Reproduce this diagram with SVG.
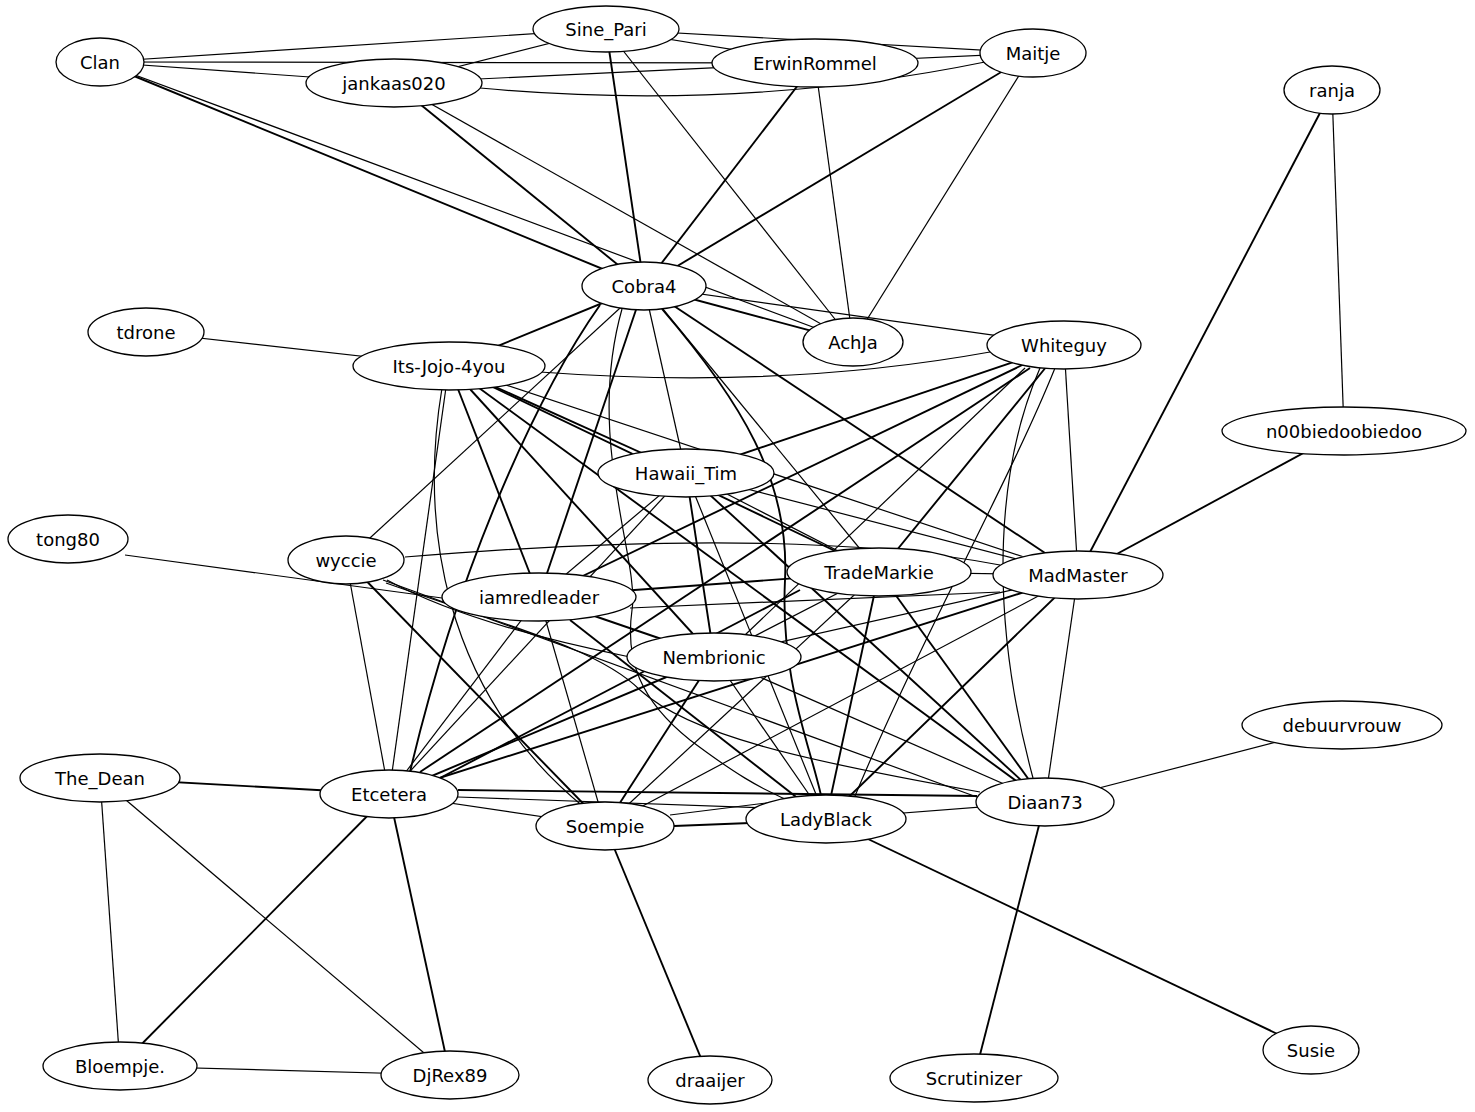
<svg xmlns="http://www.w3.org/2000/svg" width="1475" height="1112" viewBox="0 0 1475 1112">
<style>
.e line,.e path{stroke:#000;stroke-width:1.2;fill:none}
.e .t{stroke-width:1.9}
.n ellipse{fill:#fff;stroke:#000;stroke-width:1.3}
.n text{font-family:"DejaVu Sans","Liberation Sans",sans-serif;font-size:18px;text-anchor:middle;fill:#000}
</style>
<rect width="1475" height="1112" fill="#fff"/>
<g id="edges" class="e">
<line x1="100" y1="62" x2="606" y2="29"/>
<line x1="100" y1="62" x2="815" y2="63"/>
<line x1="100" y1="62" x2="394" y2="83"/>
<line class="t" x1="100" y1="62" x2="644" y2="286"/>
<line x1="100" y1="62" x2="853" y2="342"/>
<line x1="394" y1="83" x2="606" y2="29"/>
<line x1="394" y1="83" x2="815" y2="63"/>
<path d="M480,88 Q740,112 985,62"/>
<line class="t" x1="394" y1="83" x2="644" y2="286"/>
<line x1="394" y1="83" x2="853" y2="342"/>
<line x1="606" y1="29" x2="815" y2="63"/>
<line x1="606" y1="29" x2="1033" y2="53"/>
<line class="t" x1="606" y1="29" x2="644" y2="286"/>
<line x1="606" y1="29" x2="853" y2="342"/>
<line x1="815" y1="63" x2="1033" y2="53"/>
<line class="t" x1="815" y1="63" x2="644" y2="286"/>
<line x1="815" y1="63" x2="853" y2="342"/>
<line class="t" x1="1033" y1="53" x2="644" y2="286"/>
<line x1="1033" y1="53" x2="853" y2="342"/>
<line class="t" x1="644" y1="286" x2="853" y2="342"/>
<line x1="644" y1="286" x2="1064" y2="345"/>
<line class="t" x1="644" y1="286" x2="449" y2="366"/>
<path d="M540,372 Q780,390 990,352"/>
<line x1="146" y1="332" x2="449" y2="366"/>
<line class="t" x1="1332" y1="90" x2="1078" y2="575"/>
<line x1="1332" y1="90" x2="1344" y2="431"/>
<line class="t" x1="1344" y1="431" x2="1078" y2="575"/>
<line x1="1342" y1="725" x2="1045" y2="802"/>
<line class="t" x1="1311" y1="1050" x2="826" y2="819"/>
<line class="t" x1="974" y1="1078" x2="1045" y2="802"/>
<line class="t" x1="710" y1="1080" x2="605" y2="826"/>
<line class="t" x1="100" y1="778" x2="389" y2="794"/>
<line x1="100" y1="778" x2="120" y2="1066"/>
<line x1="100" y1="778" x2="450" y2="1075"/>
<line class="t" x1="120" y1="1066" x2="389" y2="794"/>
<line x1="120" y1="1066" x2="450" y2="1075"/>
<line class="t" x1="450" y1="1075" x2="389" y2="794"/>
<line x1="125" y1="555" x2="442" y2="598"/>
<line x1="644" y1="286" x2="346" y2="560"/>
<path class="t" d="M600,305 C540,390 460,560 410,772"/>
<line class="t" x1="644" y1="286" x2="539" y2="597"/>
<line x1="644" y1="286" x2="686" y2="473"/>
<line x1="644" y1="286" x2="879" y2="572"/>
<line class="t" x1="644" y1="286" x2="1078" y2="575"/>
<path d="M622,309 C585,440 640,560 632,610 C625,660 640,700 690,740 C730,770 760,790 800,805"/>
<path class="t" d="M662,309 C740,400 790,480 785,580 C780,680 812,750 822,800"/>
<line x1="449" y1="366" x2="389" y2="794"/>
<path d="M442,388 C420,520 440,690 585,808"/>
<line class="t" x1="449" y1="366" x2="539" y2="597"/>
<line class="t" x1="449" y1="366" x2="686" y2="473"/>
<line class="t" x1="449" y1="366" x2="714" y2="657"/>
<line class="t" x1="449" y1="366" x2="879" y2="572"/>
<line x1="449" y1="366" x2="1078" y2="575"/>
<line class="t" x1="449" y1="366" x2="1045" y2="802"/>
<line class="t" x1="686" y1="473" x2="1064" y2="345"/>
<line x1="686" y1="473" x2="539" y2="597"/>
<line x1="686" y1="473" x2="389" y2="794"/>
<line class="t" x1="686" y1="473" x2="714" y2="657"/>
<line x1="686" y1="473" x2="879" y2="572"/>
<line x1="686" y1="473" x2="1078" y2="575"/>
<line class="t" x1="686" y1="473" x2="1045" y2="802"/>
<line x1="686" y1="473" x2="826" y2="819"/>
<line class="t" x1="539" y1="597" x2="879" y2="572"/>
<line x1="630" y1="608" x2="1000" y2="592"/>
<line class="t" x1="539" y1="597" x2="714" y2="657"/>
<line x1="539" y1="597" x2="605" y2="826"/>
<line x1="539" y1="597" x2="389" y2="794"/>
<line class="t" x1="570" y1="620" x2="800" y2="800"/>
<path d="M405,557 Q790,525 1000,565"/>
<line x1="346" y1="560" x2="389" y2="794"/>
<line class="t" x1="346" y1="560" x2="605" y2="826"/>
<line x1="383" y1="580" x2="985" y2="800"/>
<path d="M386,583 C520,630 600,650 640,690 C690,735 800,760 980,792"/>
<path d="M387,580 Q470,625 630,657"/>
<line class="t" x1="879" y1="572" x2="1064" y2="345"/>
<line x1="879" y1="572" x2="1078" y2="575"/>
<line x1="879" y1="572" x2="714" y2="657"/>
<line class="t" x1="879" y1="572" x2="1045" y2="802"/>
<line class="t" x1="879" y1="572" x2="826" y2="819"/>
<line class="t" x1="440" y1="778" x2="800" y2="590"/>
<line x1="879" y1="572" x2="605" y2="826"/>
<line x1="1078" y1="575" x2="1064" y2="345"/>
<line x1="1078" y1="575" x2="714" y2="657"/>
<line class="t" x1="1078" y1="575" x2="389" y2="794"/>
<line class="t" x1="1078" y1="575" x2="826" y2="819"/>
<line x1="1078" y1="575" x2="1045" y2="802"/>
<line x1="1078" y1="575" x2="605" y2="826"/>
<line class="t" x1="714" y1="657" x2="389" y2="794"/>
<line class="t" x1="714" y1="657" x2="605" y2="826"/>
<line x1="714" y1="657" x2="826" y2="819"/>
<line x1="714" y1="657" x2="1045" y2="802"/>
<line x1="745" y1="635" x2="1025" y2="368"/>
<line x1="389" y1="794" x2="605" y2="826"/>
<line x1="458" y1="797" x2="770" y2="808"/>
<line class="t" x1="458" y1="790" x2="977" y2="796"/>
<line class="t" x1="420" y1="772" x2="1030" y2="368"/>
<line x1="826" y1="819" x2="1045" y2="802"/>
<line class="t" x1="674" y1="826" x2="750" y2="823"/>
<line x1="670" y1="815" x2="790" y2="800"/>
<path d="M1055,368 C1010,480 920,640 855,796"/>
<path d="M1040,368 C1000,460 985,600 1033,778"/>
<line class="t" x1="1064" y1="345" x2="539" y2="597"/>
</g>
<g id="n-Clan" class="n"><ellipse cx="100" cy="62" rx="44" ry="24"/><text x="100" y="68.5">Clan</text></g>
<g id="n-Sine_Pari" class="n"><ellipse cx="606" cy="29" rx="73" ry="23"/><text x="606" y="35.5">Sine_Pari</text></g>
<g id="n-ErwinRommel" class="n"><ellipse cx="815" cy="63" rx="103" ry="24"/><text x="815" y="69.5">ErwinRommel</text></g>
<g id="n-Maitje" class="n"><ellipse cx="1033" cy="53" rx="53" ry="24"/><text x="1033" y="59.5">Maitje</text></g>
<g id="n-jankaas020" class="n"><ellipse cx="394" cy="83" rx="88" ry="24"/><text x="394" y="89.5">jankaas020</text></g>
<g id="n-ranja" class="n"><ellipse cx="1332" cy="90" rx="48" ry="24"/><text x="1332" y="96.5">ranja</text></g>
<g id="n-Cobra4" class="n"><ellipse cx="644" cy="286" rx="62" ry="24"/><text x="644" y="292.5">Cobra4</text></g>
<g id="n-AchJa" class="n"><ellipse cx="853" cy="342" rx="50" ry="24"/><text x="853" y="348.5">AchJa</text></g>
<g id="n-Whiteguy" class="n"><ellipse cx="1064" cy="345" rx="77" ry="24"/><text x="1064" y="351.5">Whiteguy</text></g>
<g id="n-tdrone" class="n"><ellipse cx="146" cy="332" rx="58" ry="24"/><text x="146" y="338.5">tdrone</text></g>
<g id="n-Its-Jojo-4you" class="n"><ellipse cx="449" cy="366" rx="96" ry="24"/><text x="449" y="372.5">Its-Jojo-4you</text></g>
<g id="n-n00biedoobiedoo" class="n"><ellipse cx="1344" cy="431" rx="122" ry="24"/><text x="1344" y="437.5">n00biedoobiedoo</text></g>
<g id="n-Hawaii_Tim" class="n"><ellipse cx="686" cy="473" rx="88" ry="24"/><text x="686" y="479.5">Hawaii_Tim</text></g>
<g id="n-tong80" class="n"><ellipse cx="68" cy="539" rx="60" ry="24"/><text x="68" y="545.5">tong80</text></g>
<g id="n-wyccie" class="n"><ellipse cx="346" cy="560" rx="58" ry="24"/><text x="346" y="566.5">wyccie</text></g>
<g id="n-TradeMarkie" class="n"><ellipse cx="879" cy="572" rx="92" ry="24"/><text x="879" y="578.5">TradeMarkie</text></g>
<g id="n-MadMaster" class="n"><ellipse cx="1078" cy="575" rx="85" ry="24"/><text x="1078" y="581.5">MadMaster</text></g>
<g id="n-iamredleader" class="n"><ellipse cx="539" cy="597" rx="97" ry="24"/><text x="539" y="603.5">iamredleader</text></g>
<g id="n-Nembrionic" class="n"><ellipse cx="714" cy="657" rx="87" ry="24"/><text x="714" y="663.5">Nembrionic</text></g>
<g id="n-debuurvrouw" class="n"><ellipse cx="1342" cy="725" rx="100" ry="24"/><text x="1342" y="731.5">debuurvrouw</text></g>
<g id="n-The_Dean" class="n"><ellipse cx="100" cy="778" rx="80" ry="24"/><text x="100" y="784.5">The_Dean</text></g>
<g id="n-Etcetera" class="n"><ellipse cx="389" cy="794" rx="69" ry="24"/><text x="389" y="800.5">Etcetera</text></g>
<g id="n-Diaan73" class="n"><ellipse cx="1045" cy="802" rx="69" ry="24"/><text x="1045" y="808.5">Diaan73</text></g>
<g id="n-Soempie" class="n"><ellipse cx="605" cy="826" rx="69" ry="24"/><text x="605" y="832.5">Soempie</text></g>
<g id="n-LadyBlack" class="n"><ellipse cx="826" cy="819" rx="80" ry="24"/><text x="826" y="825.5">LadyBlack</text></g>
<g id="n-Bloempje" class="n"><ellipse cx="120" cy="1066" rx="77" ry="24"/><text x="120" y="1072.5">Bloempje.</text></g>
<g id="n-DjRex89" class="n"><ellipse cx="450" cy="1075" rx="69" ry="24"/><text x="450" y="1081.5">DjRex89</text></g>
<g id="n-draaijer" class="n"><ellipse cx="710" cy="1080" rx="62" ry="24"/><text x="710" y="1086.5">draaijer</text></g>
<g id="n-Scrutinizer" class="n"><ellipse cx="974" cy="1078" rx="84" ry="24"/><text x="974" y="1084.5">Scrutinizer</text></g>
<g id="n-Susie" class="n"><ellipse cx="1311" cy="1050" rx="48" ry="24"/><text x="1311" y="1056.5">Susie</text></g>
</svg>
